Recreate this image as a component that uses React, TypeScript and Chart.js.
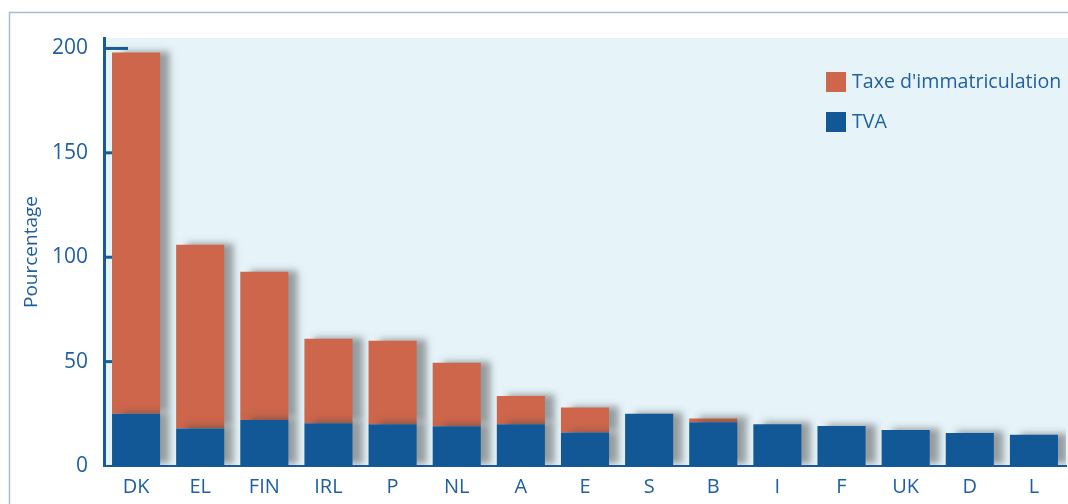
import React, { useEffect, useRef } from "react";
import { Chart, registerables } from "chart.js";

Chart.register(...registerables);

const categories = ["DK", "EL", "FIN", "IRL", "P", "NL", "A", "E", "S", "B", "I", "F", "UK", "D", "L"];
const tvaValues = [25, 18, 22, 20.5, 20, 19, 20, 16, 25, 21, 20, 19.2, 17.3, 15.8, 15];
const taxeValues = [173, 88, 71, 40.5, 40, 30.5, 13.5, 12, 0, 1.8, 0, 0, 0, 0, 0];
const yTicks = [0, 50, 100, 150, 200];
const seriesNames = ["Taxe d'immatriculation", "TVA"];

const BLUE = "#135896";
const ORANGE = "#cd664b";
const TEXT = "#1f5f9f";
const AXIS = "#1a5a96";
const FONT = "'Open Sans', sans-serif";

const decorPlugin = {
  id: "decor",
  beforeDraw(chart: any) {
    const { ctx, chartArea, width, height } = chart;
    ctx.save();
    ctx.fillStyle = "#e6f4f9";
    ctx.fillRect(chartArea.left, chartArea.top, width - chartArea.left, chartArea.bottom - chartArea.top);
    ctx.strokeStyle = "#a7bdd3";
    ctx.lineWidth = 1.5;
    ctx.beginPath();
    ctx.moveTo(9.5, height);
    ctx.lineTo(9.5, 12.5);
    ctx.lineTo(width, 12.5);
    ctx.stroke();
    ctx.restore();
  },
  beforeDatasetsDraw(chart: any) {
    const { ctx, chartArea, scales } = chart;
    ctx.save();
    ctx.strokeStyle = AXIS;
    ctx.lineWidth = 3;
    yTicks.forEach((v) => {
      if (v === 0) return;
      const y = scales.y.getPixelForValue(v);
      ctx.beginPath();
      ctx.moveTo(chartArea.left, y);
      ctx.lineTo(chartArea.left + 24, y);
      ctx.stroke();
    });
    ctx.restore();
    ctx.save();
    ctx.shadowColor = "rgba(70,70,70,0.5)";
    ctx.shadowOffsetX = 10;
    ctx.shadowOffsetY = -2;
    ctx.shadowBlur = 7;
  },
  afterDatasetsDraw(chart: any) {
    chart.ctx.restore();
  },
  afterDraw(chart: any) {
    const { ctx } = chart;
    ctx.save();
    const items = [
      { label: seriesNames[0], color: ORANGE, y: 82 },
      { label: seriesNames[1], color: BLUE, y: 122 },
    ];
    ctx.font = `19.6px ${FONT}`;
    ctx.textBaseline = "middle";
    ctx.textAlign = "left";
    items.forEach((it) => {
      ctx.fillStyle = it.color;
      ctx.fillRect(826, it.y - 10, 20, 20);
      ctx.fillStyle = TEXT;
      ctx.fillText(it.label, 852, it.y);
    });
    ctx.restore();
  },
};

export default function App() {
  const ref = useRef<HTMLCanvasElement>(null);
  useEffect(() => {
    if (!ref.current) return;
    const chart = new Chart(ref.current, {
      type: "bar",
      data: {
        labels: categories,
        datasets: [
          {
            label: seriesNames[1],
            data: tvaValues,
            backgroundColor: BLUE,
            barPercentage: 0.75,
            categoryPercentage: 1,
            borderWidth: 0,
          },
          {
            label: seriesNames[0],
            data: taxeValues,
            backgroundColor: ORANGE,
            barPercentage: 0.75,
            categoryPercentage: 1,
            borderWidth: 0,
          },
        ],
      },
      options: {
        animation: false,
        responsive: false,
        maintainAspectRatio: false,
        layout: { padding: { top: 38, right: 2, left: 0, bottom: 0 } },
        plugins: { legend: { display: false }, tooltip: { enabled: false } },
        scales: {
          x: {
            stacked: true,
            grid: { display: false, drawTicks: false },
            border: { display: true, color: AXIS, width: 2 },
            ticks: { color: TEXT, font: { family: FONT, size: 20 }, padding: 9 },
            afterFit: (s: any) => {
              s.height = 38;
            },
          },
          y: {
            stacked: true,
            min: 0,
            max: 205,
            grid: { display: false, drawTicks: false },
            border: { display: true, color: AXIS, width: 3 },
            afterBuildTicks: (s: any) => {
              s.ticks = yTicks.map((v) => ({ value: v }));
            },
            ticks: { color: TEXT, font: { family: FONT, size: 21 }, padding: 16 },
            title: {
              display: true,
              text: "Pourcentage",
              color: TEXT,
              font: { family: FONT, size: 19 },
              padding: { top: 20, bottom: 0 },
            },
            afterFit: (s: any) => {
              s.width = 104;
            },
          },
        },
      },
      plugins: [decorPlugin],
    });
    return () => chart.destroy();
  }, []);
  return (
    <div style={{ position: "fixed", left: 0, top: 0, width: 1068, height: 504, background: "#fff" }}>
      <canvas ref={ref} width={1068} height={504} style={{ display: "block" }} />
    </div>
  );
}
